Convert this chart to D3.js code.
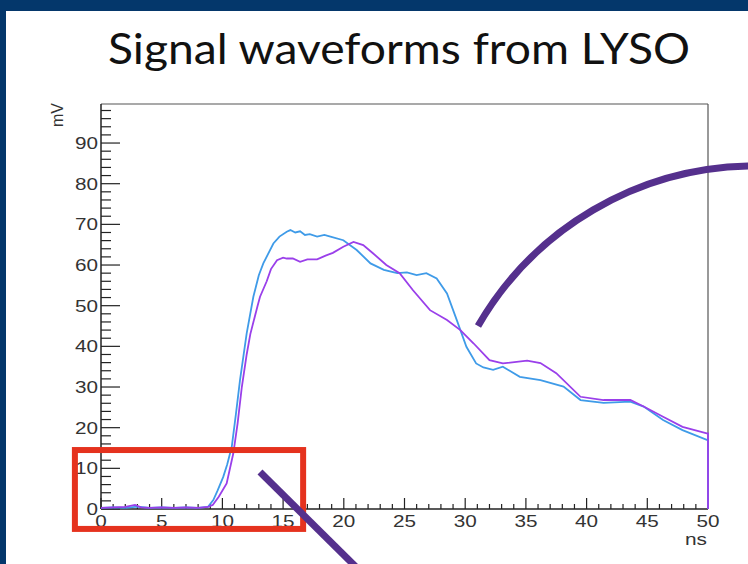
<!DOCTYPE html>
<html>
<head>
<meta charset="utf-8">
<title>Signal waveforms from LYSO</title>
<script src="https://d3js.org/d3.v7.min.js"></script>
<style>
    body { margin: 0; background: #fff; }
    .tick-label { font-family: "Liberation Sans", Arial, sans-serif; font-size: 16px; fill: #333; }
</style>
</head>
<body>
<svg width="748" height="564"></svg>
<script>
// waveform data (ns, mV)
var blueT = [0, 1, 2, 3, 4, 5, 6, 7, 8, 8.8, 9.25, 9.6, 10.07, 10.4, 10.77, 11.1, 11.45, 12.0, 12.55, 13.0, 13.37, 14.2, 14.7, 15.3, 15.6, 16.0, 16.4, 16.8, 17.2, 17.8, 18.4, 18.9, 19.96, 21.06, 22.2, 23.3, 24.4, 25.2, 26.0, 26.8, 27.65, 28.5, 29.3, 30.1, 30.9, 31.5, 32.3, 33.1, 34.5, 36.2, 38.1, 39.5, 41.4, 43.6, 44.7, 46.3, 47.9, 49.9, 50, 50];
var blueV = [0.3, 0.4, 0.3, 0.6, 0.3, 0.4, 0.3, 0.4, 0.3, 0.5, 2.2, 4.5, 7.9, 11, 15.3, 23, 31.7, 43.2, 52.2, 57.5, 60.4, 65.3, 67, 68.2, 68.6, 68.0, 68.3, 67.4, 67.6, 67.0, 67.4, 67, 66.1, 63.7, 60.4, 58.8, 58, 58.2, 57.5, 58, 56.7, 53, 46.5, 39.9, 35.8, 34.8, 34.2, 35, 32.5, 31.7, 30.1, 26.8, 26.1, 26.4, 25.2, 21.9, 19.4, 17, 17, 0];

var purpleT = [0, 1, 2, 2.8, 3.3, 4, 5, 6, 7, 8, 8.8, 9.2, 9.7, 10.35, 10.9, 11.25, 11.6, 12.0, 12.3, 12.9, 13.1, 13.65, 14.0, 14.5, 15.0, 15.3, 15.8, 16.4, 17.0, 17.8, 18.5, 19.1, 19.96, 20.8, 21.6, 22.4, 23.5, 24.6, 25.7, 27.1, 28.5, 29.6, 30.7, 32.0, 33.1, 35.1, 36.2, 37.5, 39.5, 41.4, 43.6, 44.7, 46.3, 47.9, 49.9, 50, 50];
var purpleV = [0.3, 0.4, 0.5, 1.0, 0.4, 0.3, 0.4, 0.3, 0.4, 0.3, 0.5, 1, 3, 6.3, 13.7, 21, 30, 38, 43, 50, 52.2, 56, 59, 61.2, 61.8, 61.6, 61.6, 60.8, 61.4, 61.4, 62.3, 63, 64.5, 65.7, 64.9, 62.9, 60, 58, 53.8, 48.9, 46.5, 44, 40.7, 36.6, 35.8, 36.5, 35.9, 33.4, 27.6, 26.8, 26.8, 25.2, 22.7, 20.2, 18.6, 18.6, 0];

var xTicks = [0, 5, 10, 15, 20, 25, 30, 35, 40, 45, 50];
var yTicks = [0, 10, 20, 30, 40, 50, 60, 70, 80, 90];

// highlight box around the baseline, in data units
var redBox = { x0: -2.15, x1: 16.65, y0: -4.9, y1: 14.5 };

var svg = d3.select("svg");

// slide frame
svg.append("rect").attr("x", 0).attr("y", 0).attr("width", 748).attr("height", 11).attr("fill", "#04376b");
svg.append("rect").attr("x", 0).attr("y", 0).attr("width", 6).attr("height", 564).attr("fill", "#04376b");

svg.append("text")
    .attr("x", 399).attr("y", 64)
    .attr("text-anchor", "middle")
    .attr("font-family", "Lato, 'Open Sans', sans-serif")
    .attr("font-size", 42)
    .attr("fill", "#111")
    .attr("textLength", 582)
    .attr("lengthAdjust", "spacingAndGlyphs")
    .text("Signal waveforms from LYSO");

var x = d3.scaleLinear().domain([0, 50]).range([101, 708]);
var y = d3.scaleLinear().domain([0, 99.6]).range([509, 104]);

// frame top and right
svg.append("line").attr("x1", 101).attr("x2", 708).attr("y1", 104).attr("y2", 104).attr("stroke", "#555").attr("stroke-width", 1.2);
svg.append("line").attr("x1", 708).attr("x2", 708).attr("y1", 104).attr("y2", 509).attr("stroke", "#555").attr("stroke-width", 1.2);

// x axis
var gx = svg.append("g");
gx.append("line").attr("x1", 101).attr("x2", 708).attr("y1", 509).attr("y2", 509).attr("stroke", "#222").attr("stroke-width", 1.5);
d3.range(0, 51, 1).forEach(function(t) {
    var major = t % 5 === 0;
    gx.append("line").attr("x1", x(t)).attr("x2", x(t))
      .attr("y1", 509).attr("y2", 509 - (major ? 11 : 5))
      .attr("stroke", "#222").attr("stroke-width", 1.2);
});
gx.selectAll(".xl").data(xTicks).enter().append("text")
  .attr("class", "tick-label")
  .attr("x", function(d) { return x(d); })
  .attr("y", 527)
  .attr("text-anchor", "middle")
  .attr("textLength", function(d) { return String(d).length * 11.5; })
  .attr("lengthAdjust", "spacingAndGlyphs")
  .text(function(d) { return d; });
svg.append("text").attr("class", "tick-label").attr("x", 707).attr("y", 545).attr("text-anchor", "end")
  .attr("textLength", 22).attr("lengthAdjust", "spacingAndGlyphs").text("ns");

// y axis
var gy = svg.append("g");
gy.append("line").attr("x1", 101).attr("x2", 101).attr("y1", 104).attr("y2", 509).attr("stroke", "#222").attr("stroke-width", 1.5);
d3.range(0, 99, 2).forEach(function(v) {
    var major = v % 10 === 0;
    gy.append("line").attr("x1", 101).attr("x2", 101 + (major ? 19 : 10))
      .attr("y1", y(v)).attr("y2", y(v))
      .attr("stroke", "#222").attr("stroke-width", 1.2);
});
gy.selectAll(".yl").data(yTicks).enter().append("text")
  .attr("class", "tick-label")
  .attr("x", 98)
  .attr("y", function(d) { return y(d) + 6; })
  .attr("text-anchor", "end")
  .attr("textLength", function(d) { return String(d).length * 11.5; })
  .attr("lengthAdjust", "spacingAndGlyphs")
  .text(function(d) { return d; });
svg.append("text").attr("class", "tick-label")
  .attr("transform", "translate(63,103) rotate(-90)")
  .attr("text-anchor", "end")
  .attr("font-size", 17)
  .text("mV");

// waveforms
var line = d3.line().x(function(d) { return x(d[0]); }).y(function(d) { return y(d[1]); });
svg.append("path").datum(d3.zip(blueT, blueV))
  .attr("d", line).attr("fill", "none").attr("stroke", "#3f9be8").attr("stroke-width", 1.8);
svg.append("path").datum(d3.zip(purpleT, purpleV))
  .attr("d", line).attr("fill", "none").attr("stroke", "#9a3fea").attr("stroke-width", 1.8);

// annotations
svg.append("rect")
  .attr("x", x(redBox.x0)).attr("y", y(redBox.y1))
  .attr("width", x(redBox.x1) - x(redBox.x0)).attr("height", y(redBox.y0) - y(redBox.y1))
  .attr("fill", "none").attr("stroke", "#e5321e").attr("stroke-width", 6);

svg.append("line").attr("x1", 260).attr("y1", 472).attr("x2", 356).attr("y2", 567)
  .attr("stroke", "#55308d").attr("stroke-width", 7);
svg.append("path").attr("d", "M478,326 A 320 320 0 0 1 750,166")
  .attr("fill", "none").attr("stroke", "#55308d").attr("stroke-width", 7);
</script>
</body>
</html>
